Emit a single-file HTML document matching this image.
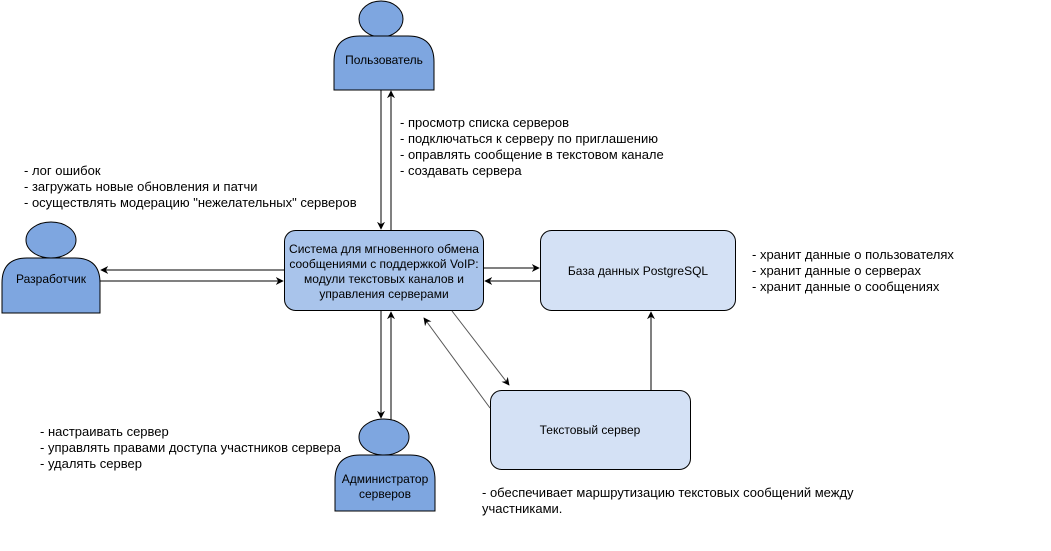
<!DOCTYPE html>
<html><head><meta charset="utf-8"><style>
html,body{margin:0;padding:0;background:#fff;}
svg{display:block;font-family:"Liberation Sans",Arial,sans-serif;font-size:12px;}
.l{font-size:13px;}
</style></head><body>
<svg width="1051" height="551" viewBox="0 0 1051 551" xmlns="http://www.w3.org/2000/svg">
<defs>
<marker id="a" viewBox="0 0 10 10" refX="9" refY="5" markerWidth="8" markerHeight="8" orient="auto" markerUnits="userSpaceOnUse"><path d="M0,0 L10,5 L0,10 L3,5 z" fill="#000"/></marker>
</defs>
<g stroke="#000" stroke-width="1" fill="#7EA6E0">
<ellipse cx="381" cy="19" rx="22" ry="18"/>
<path d="M334,90 L334,62 Q334,36 360,36 L408,36 Q434,36 434,62 L434,90 Z"/>
<ellipse cx="384" cy="437" rx="25" ry="18"/>
<path d="M335,511 L335,480 Q335,455 360,455 L410,455 Q435,455 435,480 L435,511 Z"/>
<ellipse cx="51" cy="240" rx="25" ry="18"/>
<path d="M2,313 L2,283 Q2,258 27,258 L75,258 Q100,258 100,283 L100,313 Z"/>
</g>
<rect x="284.5" y="230.5" width="199" height="80" rx="11" fill="#A9C4EB" stroke="#000"/>
<rect x="540.5" y="230.5" width="195" height="80" rx="11" fill="#D4E1F5" stroke="#000"/>
<rect x="490.5" y="390.5" width="200" height="79" rx="11" fill="#D4E1F5" stroke="#000"/>
<g stroke="#000" fill="none">
<line x1="381" y1="90" x2="381" y2="229" marker-end="url(#a)"/>
<line x1="391" y1="230" x2="391" y2="91" marker-end="url(#a)"/>
<line x1="381" y1="311" x2="381" y2="418" marker-end="url(#a)"/>
<line x1="391" y1="420" x2="391" y2="312" marker-end="url(#a)"/>
<line x1="284" y1="270" x2="101" y2="270" marker-end="url(#a)"/>
<line x1="100" y1="281" x2="283" y2="281" marker-end="url(#a)"/>
<line x1="484" y1="268" x2="539" y2="268" marker-end="url(#a)"/>
<line x1="540" y1="281" x2="485" y2="281" marker-end="url(#a)"/>
<line x1="651" y1="390" x2="651" y2="312" marker-end="url(#a)"/>
<line x1="452" y1="311" x2="509" y2="385" stroke="#555" marker-end="url(#a)"/>
<line x1="490" y1="408" x2="424" y2="318" stroke="#555" marker-end="url(#a)"/>
</g>
<g fill="#000">
<text x="384" y="64" text-anchor="middle">Пользователь</text>
<text x="385" y="483" text-anchor="middle">Администратор</text>
<text x="385" y="498" text-anchor="middle">серверов</text>
<text x="51" y="283" text-anchor="middle">Разработчик</text>
<text x="384" y="253" text-anchor="middle">Система для мгновенного обмена</text>
<text x="384" y="268" text-anchor="middle">сообщениями с поддержкой VoIP:</text>
<text x="384" y="283" text-anchor="middle">модули текстовых каналов и</text>
<text x="384" y="298" text-anchor="middle">управления серверами</text>
<text x="638" y="275" text-anchor="middle">База данных PostgreSQL</text>
<text x="590" y="434" text-anchor="middle">Текстовый сервер</text>
<g class="l">
<text x="400" y="127">- просмотр списка серверов</text>
<text x="400" y="143">- подключаться к серверу по приглашению</text>
<text x="400" y="159">- оправлять сообщение в текстовом канале</text>
<text x="400" y="175">- создавать сервера</text>
<text x="24" y="175">- лог ошибок</text>
<text x="24" y="191">- загружать новые обновления и патчи</text>
<text x="24" y="207">- осуществлять модерацию "нежелательных" серверов</text>
<text x="752" y="259">- хранит данные о пользователях</text>
<text x="752" y="275">- хранит данные о серверах</text>
<text x="752" y="291">- хранит данные о сообщениях</text>
<text x="40" y="436">- настраивать сервер</text>
<text x="40" y="452">- управлять правами доступа участников сервера</text>
<text x="40" y="468">- удалять сервер</text>
<text x="482" y="497">- обеспечивает маршрутизацию текстовых сообщений между</text>
<text x="482" y="513">участниками.</text>
</g>
</g>
</svg>
</body></html>
